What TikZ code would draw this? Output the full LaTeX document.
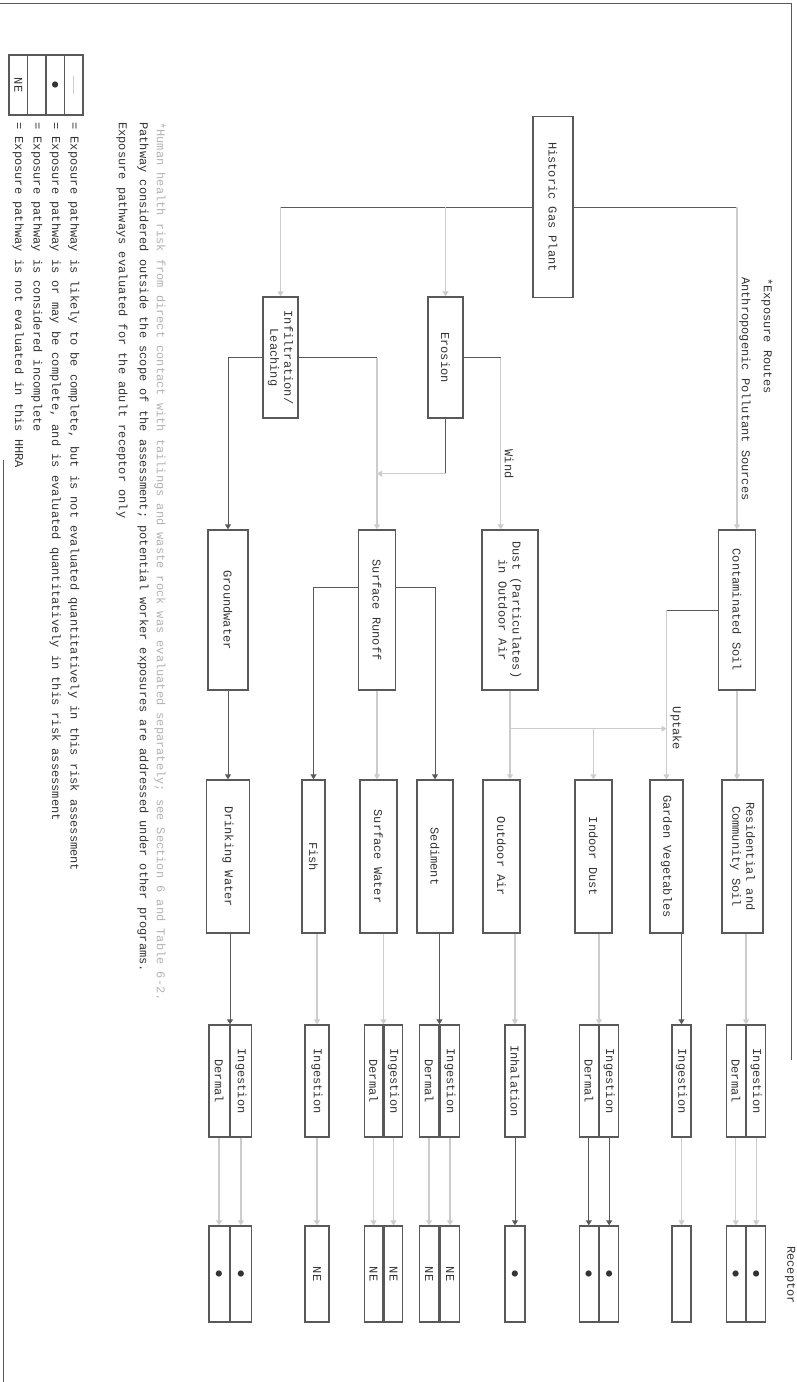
\documentclass[tikz,border=0pt]{standalone}
\usepackage{fontspec}
\setmainfont{Liberation Mono}
\newfontfamily\dotfont{DejaVu Sans}
\usetikzlibrary{arrows.meta,calc}

\definecolor{ink}{gray}{0.2}
\definecolor{rule}{gray}{0.35}
\definecolor{pale}{gray}{0.8}
\newcommand{\keydot}{{\dotfont\fontsize{8}{8}\selectfont ●}}

\tikzset{
  box/.style={draw=rule, line width=1.4pt, text=ink, inner sep=1pt, align=center},
  lvlone/.style={box, minimum width=121pt, minimum height=35pt},
  lvltwo/.style={box, minimum width=160pt},
  medium/.style={box, minimum width=153pt},
  route/.style={box, minimum width=112pt},
  rcpt/.style={box, minimum width=96pt},
  keycell/.style={box, minimum width=60pt, minimum height=18.5pt},
  link/.style={draw=rule, line width=1pt},
  faint/.style={draw=pale, line width=1.2pt},
  note/.style={text=ink, anchor=west, inner sep=0pt},
}

\begin{document}
\begin{tikzpicture}[x=1pt, y=1pt, font=\fontsize{12}{14}\selectfont, >={Triangle[width=6pt,length=5pt]}]
\begin{scope}[rotate=-90, transform shape]
\useasboundingbox (0,0) rectangle (1382,796);

\draw[rule, line width=1pt] (3,0) -- (3,791) -- (1060,791);
\draw[rule, line width=1pt] (460,3) -- (1382,3);

\node[note] (title) at (278,767) {*Exposure Routes};
\node[note] (subtitle) at (277,745) {Anthropogenic Pollutant Sources};
\node[text=ink] (rcphead) at (1275,790) {Receptor};

\node[box, minimum width=181pt, minimum height=40pt] (src) at (207,553) {Historic Gas Plant};
\node[lvlone] (erosion) at (357.5,445.5) {Erosion};
\node[lvlone] (leach) at (357.5,280.5) {Infiltration/\\Leaching};

\node[lvltwo, minimum height=40pt] (gw) at (610,228) {Groundwater};
\node[lvltwo, minimum height=37pt] (runoff) at (610,377) {Surface Runoff};
\node[lvltwo, minimum height=56pt] (airdust) at (610,510) {Dust (Particulates)\\in Outdoor Air};
\node[lvltwo, minimum height=37pt] (soil) at (610,737) {Contaminated Soil};

\node[medium, minimum height=43pt] (dw) at (856.5,228) {Drinking Water};
\node[medium, minimum height=23pt] (fish) at (856.5,313.5) {Fish};
\node[medium, minimum height=37pt] (swat) at (856.5,378.5) {Surface Water};
\node[medium, minimum height=36pt] (sed) at (856.5,435) {Sediment};
\node[medium, minimum height=37pt] (outair) at (856.5,501.5) {Outdoor Air};
\node[medium, minimum height=37pt] (indust) at (856.5,593.5) {Indoor Dust};
\node[medium, minimum height=33pt] (garden) at (856.5,666.5) {Garden Vegetables};
\node[medium, minimum height=41pt] (ressoil) at (856.5,742.5) {Residential and\\Community Soil};

\node[route, minimum height=20.5pt, anchor=south] (dwIng) at (1081,230) {Ingestion};
\node[route, minimum height=20.5pt, anchor=north] (dwDer) at (1081,230) {Dermal};
\node[route, minimum height=24pt] (fishIng) at (1081,317) {Ingestion};
\node[route, minimum height=18.5pt, anchor=south] (swatIng) at (1081,383.5) {Ingestion};
\node[route, minimum height=18.5pt, anchor=north] (swatDer) at (1081,383.5) {Dermal};
\node[route, minimum height=19.5pt, anchor=south] (sedIng) at (1081,439.5) {Ingestion};
\node[route, minimum height=19.5pt, anchor=north] (sedDer) at (1081,439.5) {Dermal};
\node[route, minimum height=20pt] (outInh) at (1081,515) {Inhalation};
\node[route, minimum height=19pt, anchor=south] (dustIng) at (1081,599) {Ingestion};
\node[route, minimum height=19pt, anchor=north] (dustDer) at (1081,599) {Dermal};
\node[route, minimum height=19pt] (gardenIng) at (1081,681.5) {Ingestion};
\node[route, minimum height=19pt, anchor=south] (resIng) at (1081,746) {Ingestion};
\node[route, minimum height=19pt, anchor=north] (resDer) at (1081,746) {Dermal};

\node[rcpt, minimum height=20.5pt, anchor=south] (dwIngR) at (1274,230) {\keydot};
\node[rcpt, minimum height=20.5pt, anchor=north] (dwDerR) at (1274,230) {\keydot};
\node[rcpt, minimum height=24pt] (fishIngR) at (1274,317) {NE};
\node[rcpt, minimum height=18.5pt, anchor=south] (swatIngR) at (1274,383.5) {NE};
\node[rcpt, minimum height=18.5pt, anchor=north] (swatDerR) at (1274,383.5) {NE};
\node[rcpt, minimum height=19.5pt, anchor=south] (sedIngR) at (1274,439.5) {NE};
\node[rcpt, minimum height=19.5pt, anchor=north] (sedDerR) at (1274,439.5) {NE};
\node[rcpt, minimum height=20pt] (outInhR) at (1274,515) {\keydot};
\node[rcpt, minimum height=19pt, anchor=south] (dustIngR) at (1274,599) {\keydot};
\node[rcpt, minimum height=19pt, anchor=north] (dustDerR) at (1274,599) {\keydot};
\node[rcpt, minimum height=19pt] (gardenIngR) at (1274,681.5) {};
\node[rcpt, minimum height=19pt, anchor=south] (resIngR) at (1274,746) {\keydot};
\node[rcpt, minimum height=19pt, anchor=north] (resDerR) at (1274,746) {\keydot};

\coordinate (busL) at (207,280.5);
\coordinate (busR) at (207,737);
\draw[link] (busL) -- (src.south);
\draw[link] (src.north) -- (busR);
\draw[faint,->] (busL) -- (leach.west);
\draw[faint,->] (busL |- erosion) -- (erosion.west);
\draw[faint,->] (busR) -- (soil.west);

\draw[link] (erosion.north) -- ++(0,37) coordinate (windpt);
\draw[faint,->] (windpt) -- (windpt -| airdust.west) node[pos=0.62, above, text=ink] {Wind};
\draw[link] (erosion.east) -- ++(55,0) coordinate (runpt);
\draw[faint,->] (runpt) -- (runpt |- runoff);
\draw[link] (leach.north) -- (leach.north |- runoff);
\draw[faint,->] (leach.north |- runoff) -- (runoff.west);
\draw[link,->] (leach.south) |- (gw.west);

\draw[link,->] (gw.east) -- (gw.east -| dw.west);
\draw[link,->] ($(runoff.south)+(-23,0)$) |- (fish.west);
\draw[link,->] ($(runoff.north)+(-23,0)$) |- (sed.west);
\draw[faint,->] (runoff.east) -- (runoff.east -| swat.west);
\draw[faint,->] (airdust.east) -- (airdust.east -| outair.west);
\coordinate (depo) at ($(airdust.east)+(38,0)$);
\draw[faint,->] (depo) -- (depo |- garden);
\draw[faint,->] (depo |- indust) -- (indust.west);
\draw[link] (soil.south) -- (soil.south |- garden);
\draw[faint,->] (soil.south |- garden) -- (garden.west) node[pos=0.7, above, text=ink] {Uptake};
\draw[faint,->] (soil.east) -- (soil.east -| ressoil.west);

\draw[link,->] (dw.east |- dwIng.south west) -- (dwIng.south west);
\draw[faint,->] (fish.east |- fishIng) -- (fishIng.west);
\draw[faint,->] (swat.east |- swatIng.south west) -- (swatIng.south west);
\draw[link,->] (sed.east |- sedIng.south west) -- (sedIng.south west);
\draw[faint,->] (outair.east |- outInh) -- (outInh.west);
\draw[faint,->] (indust.east |- dustIng.south west) -- (dustIng.south west);
\draw[link,->] (garden.east |- gardenIng) -- (gardenIng.west);
\draw[faint,->] (ressoil.east |- resIng.south west) -- (resIng.south west);

\draw[faint,->] (dwIng) -- (dwIngR);
\draw[faint,->] (dwDer) -- (dwDerR);
\draw[faint,->] (fishIng) -- (fishIngR);
\draw[faint,->] (swatIng) -- (swatIngR);
\draw[faint,->] (swatDer) -- (swatDerR);
\draw[faint,->] (sedIng) -- (sedIngR);
\draw[faint,->] (sedDer) -- (sedDerR);
\draw[link,->] (outInh) -- (outInhR);
\draw[link,->] (dustIng) -- (dustIngR);
\draw[link,->] (dustDer) -- (dustDerR);
\draw[faint,->] (gardenIng) -- (gardenIngR);
\draw[faint,->] (resIng) -- (resIngR);
\draw[faint,->] (resDer) -- (resDerR);

\node[keycell] (keyA) at (85,73.75) {};
\node[keycell] (keyB) at (85,55.25) {\keydot};
\node[keycell] (keyC) at (85,36.75) {};
\node[keycell] (keyD) at (85,18.25) {NE};
\draw[faint] ($(keyA.center)+(-9,0)$) -- ($(keyA.center)+(9,0)$);

\node[note] (keytextA) at (122,73.75) {= Exposure pathway is likely to be complete, but is not evaluated quantitatively in this risk assessment};
\node[note] (keytextB) at (122,55.25) {= Exposure pathway is or may be complete, and is evaluated quantitatively in this risk assessment};
\node[note] (keytextC) at (122,36.75) {= Exposure pathway is considered incomplete};
\node[note] (keytextD) at (122,18.25) {= Exposure pathway is not evaluated in this HHRA};

\node[note, text=gray!60] (noteA) at (122,160) {*Human health risk from direct contact with tailings and waste rock was evaluated separately; see Section 6 and Table 6-2.};
\node[note] (noteB) at (122,143) {Pathway considered outside the scope of the assessment; potential worker exposures are addressed under other programs.};
\node[note] (noteC) at (122,122) {Exposure pathways evaluated for the adult receptor only};
\end{scope}
\end{tikzpicture}
\end{document}
